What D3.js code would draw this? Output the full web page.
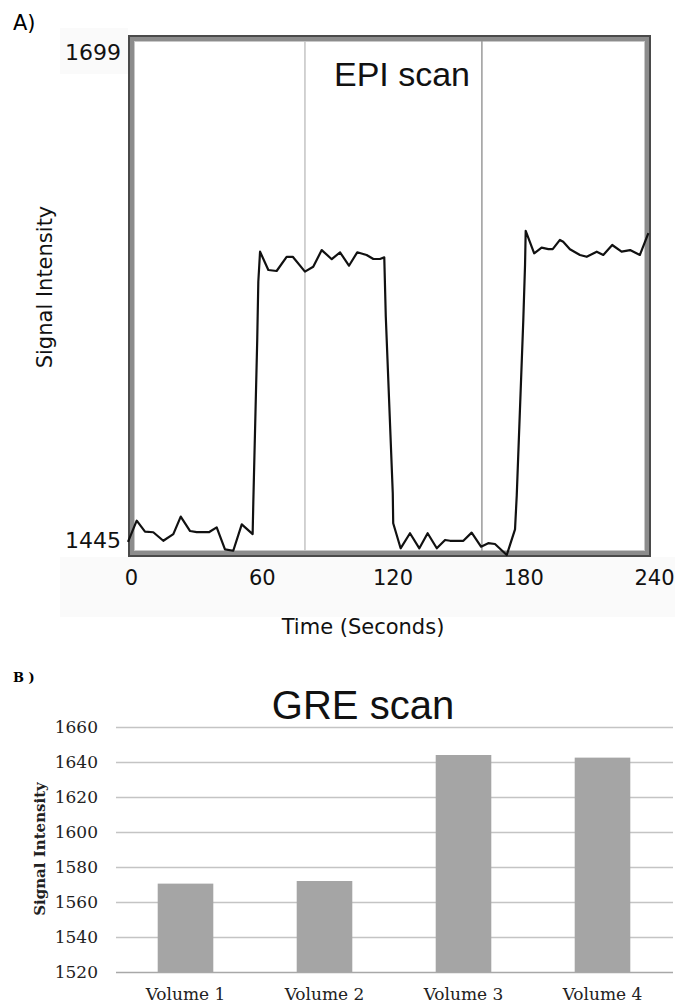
<!DOCTYPE html>
<html>
<head>
<meta charset="utf-8">
<script src="https://cdn.jsdelivr.net/npm/d3@7"></script>
<style>
  body { margin: 0; background: #fff; }
  svg { display: block; }
</style>
</head>
<body>
<div id="graph"></div>
<script>
/*******************************************************************************
* Data
*******************************************************************************/
var epiTime = [0, 4.0, 7.8, 11.6, 16.2, 20.8, 24.2, 28.5, 31.5, 37.3, 40.7, 44.5,
  48.3, 52.2, 57.2, 57.5, 59.3, 59.8, 60.6, 64.4, 68.2, 72.8, 75.6, 81.2, 85.0,
  88.9, 93.5, 97.3, 101.4, 105.2, 109.5, 112.6, 115.6, 117.6, 118.3, 121.5, 121.7,
  125.1, 129.4, 133.7, 137.5, 141.7, 145.5, 147.8, 153.9, 157.7, 162.0, 165.3,
  168.4, 173.8, 177.6, 178.4, 181.4, 182.2, 182.5, 186.4, 189.8, 192.9, 194.9,
  198.2, 199.7, 202.8, 207.4, 210.5, 215.1, 218.1, 222.2, 226.5, 230.4, 234.9, 238.8];
var epiSignal = [1451.5, 1461.9, 1456.5, 1456.2, 1452.0, 1455.3, 1463.9, 1456.8,
  1456.3, 1456.3, 1458.6, 1447.8, 1447.1, 1460.1, 1455.3, 1470.6, 1550.8, 1579.5,
  1594.3, 1585.3, 1584.8, 1591.8, 1591.8, 1584.5, 1586.9, 1595.1, 1590.6, 1594.0,
  1587.4, 1594.0, 1592.7, 1590.7, 1590.7, 1591.5, 1562.3, 1475.4, 1460.6, 1448.3,
  1455.7, 1448.3, 1455.7, 1448.3, 1452.4, 1452.0, 1452.0, 1456.0, 1449.1, 1450.8,
  1450.4, 1445.0, 1457.6, 1474.5, 1560.7, 1587.8, 1604.6, 1593.5, 1596.3, 1595.6,
  1595.6, 1600.1, 1599.2, 1595.5, 1592.7, 1591.8, 1594.3, 1592.7, 1597.6, 1594.3,
  1595.1, 1592.7, 1603.4];
var epiTimeTicks = [0, 60, 120, 180, 240];
var epiSignalTicks = [1445, 1699];
var epiMarkers = [81.2, 162.4];

var greVolumes = ["Volume 1", "Volume 2", "Volume 3", "Volume 4"];
var greSignal = [1570.5, 1572, 1644, 1642.5];
var greTicks = [1520, 1540, 1560, 1580, 1600, 1620, 1640, 1660];

/*******************************************************************************
* Svg Container
*******************************************************************************/
var svg = d3.select("#graph").append("svg")
  .attr("width", 675)
  .attr("height", 1004);

/*******************************************************************************
* Panel A - EPI scan
*******************************************************************************/
var sansA = "'DejaVu Sans', Verdana, sans-serif";
var x = d3.scaleLinear().domain([0, 240]).range([128, 651]);
var y = d3.scaleLinear().domain([1445, 1699]).range([555, 39]);

// faint scanned backdrop
svg.append("rect").attr("x", 60).attr("y", 557).attr("width", 615).attr("height", 60)
  .style("fill", "#fafafa");
svg.append("rect").attr("x", 60).attr("y", 28).attr("width", 68).attr("height", 46)
  .style("fill", "#fafafa");

svg.append("text").attr("x", 13).attr("y", 30)
  .style("font-family", sansA).style("font-size", "21px").text("A)");

// frame
svg.append("rect").attr("x", 128).attr("y", 35).attr("width", 523).attr("height", 522)
  .style("fill", "#fff");
svg.append("rect").attr("x", 129).attr("y", 36).attr("width", 521).attr("height", 520)
  .style("fill", "none").style("stroke", "#4a4a4a").style("stroke-width", 2);
svg.append("rect").attr("x", 132).attr("y", 39).attr("width", 515).attr("height", 514)
  .style("fill", "none").style("stroke", "#8c8c8c").style("stroke-width", 4);
svg.append("rect").attr("x", 134.5).attr("y", 41.5).attr("width", 510).attr("height", 509)
  .style("fill", "none").style("stroke", "#c8c8c8").style("stroke-width", 1);

// marker lines
svg.selectAll(".marker").data(epiMarkers).enter().append("line")
  .attr("x1", function(d) { return x(d); })
  .attr("x2", function(d) { return x(d); })
  .attr("y1", 41).attr("y2", 551)
  .style("stroke", function(d, i) { return i === 0 ? "#c4c4c4" : "#9a9a9a"; })
  .style("stroke-width", 1.5);

var line = d3.line()
  .x(function(d, i) { return x(epiTime[i]); })
  .y(function(d) { return y(d); });

svg.append("path").datum(epiSignal)
  .attr("d", line)
  .style("fill", "none")
  .style("stroke", "#111")
  .style("stroke-width", 2.2)
  .style("stroke-linejoin", "round");

var xAxisA = svg.append("g")
  .attr("transform", "translate(0,557)")
  .call(d3.axisBottom(x).tickValues(epiTimeTicks).tickSize(0).tickPadding(13));
xAxisA.select(".domain").remove();
xAxisA.selectAll("text")
  .attr("dx", 3)
  .style("font-family", sansA).style("font-size", "21px").style("fill", "#111");

var yAxisA = svg.append("g")
  .attr("transform", "translate(128,0)")
  .call(d3.axisLeft(y).tickValues(epiSignalTicks).tickSize(0).tickPadding(7)
    .tickFormat(d3.format("d")));
yAxisA.select(".domain").remove();
yAxisA.selectAll("text")
  .attr("dy", function(d) { return d === 1699 ? "0.92em" : "-0.36em"; })
  .style("font-family", sansA).style("font-size", "22px").style("fill", "#111");

svg.append("text").attr("x", 402).attr("y", 86)
  .attr("text-anchor", "middle")
  .style("font-family", "'Liberation Sans', Arial, sans-serif")
  .style("font-size", "34px").style("fill", "#111")
  .text("EPI scan");

svg.append("text").attr("x", 363).attr("y", 634)
  .attr("text-anchor", "middle")
  .style("font-family", sansA).style("font-size", "21px").style("fill", "#111")
  .text("Time (Seconds)");

svg.append("text")
  .attr("transform", "translate(52,287) rotate(-90)")
  .attr("text-anchor", "middle")
  .style("font-family", sansA).style("font-size", "21px").style("fill", "#111")
  .text("Signal Intensity");

/*******************************************************************************
* Panel B - GRE scan
*******************************************************************************/
var serifB = "'DejaVu Serif', 'Liberation Serif', serif";
var xb = d3.scaleBand().domain(greVolumes).range([116, 672])
  .paddingInner(0.6).paddingOuter(0.3);
var yb = d3.scaleLinear().domain([1520, 1660]).range([972, 727]);

svg.append("text").attr("x", 13).attr("y", 682)
  .style("font-family", serifB).style("font-size", "13px").style("font-weight", "bold")
  .text("B )");

svg.append("text").attr("x", 363).attr("y", 719)
  .attr("text-anchor", "middle")
  .style("font-family", "'Liberation Sans', Arial, sans-serif")
  .style("font-size", "40px").style("fill", "#111")
  .text("GRE scan");

var grid = svg.append("g")
  .attr("transform", "translate(116,0)")
  .call(d3.axisLeft(yb).tickValues(greTicks).tickSize(-557).tickPadding(18)
    .tickFormat(d3.format("d")));
grid.select(".domain").remove();
grid.selectAll("line")
  .style("stroke", function(d) { return d === 1520 ? "#a8a8a8" : "#c4c4c4"; })
  .style("stroke-width", 1.5);
grid.selectAll("text")
  .style("font-family", serifB).style("font-size", "17px").style("fill", "#222");

svg.selectAll(".bar").data(greSignal).enter().append("rect")
  .attr("class", "bar")
  .attr("x", function(d, i) { return xb(greVolumes[i]); })
  .attr("y", function(d) { return yb(d); })
  .attr("width", xb.bandwidth())
  .attr("height", function(d) { return yb(1520) - yb(d); })
  .style("fill", "#a5a5a5");

var xAxisB = svg.append("g")
  .attr("transform", "translate(0,972)")
  .call(d3.axisBottom(xb).tickSize(0).tickPadding(16));
xAxisB.select(".domain").remove();
xAxisB.selectAll("text")
  .style("font-family", serifB).style("font-size", "17px").style("fill", "#222");

svg.append("text")
  .attr("transform", "translate(45,849) rotate(-90)")
  .attr("text-anchor", "middle")
  .style("font-family", serifB)
  .style("font-size", "15px").style("font-weight", "bold").style("fill", "#222")
  .text("Signal Intensity");
</script>
</body>
</html>
